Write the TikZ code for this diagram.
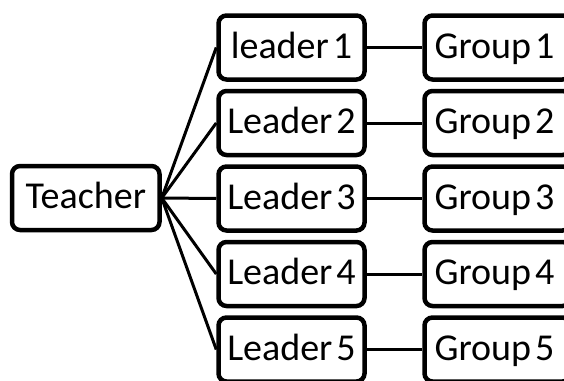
\documentclass[tikz,border=0pt]{standalone}
\usepackage{fontspec}
\setmainfont{Carlito}
\newcommand{\mybxfont}{\fontsize{38}{40}\selectfont\spaceskip=4pt plus 1pt\relax}
\begin{document}
\begin{tikzpicture}[x=1pt,y=-1pt,
  box/.style={draw=black, line width=4.5pt, rounded corners=8pt, fill=white,
    minimum height=64pt, inner sep=0pt, text height=30pt, text depth=9pt,
    font=\mybxfont},
  lbox/.style={box, minimum width=146pt},
  link/.style={draw=black, line width=3pt}]
\useasboundingbox (0,0) rectangle (564,380);
\clip (0,0) rectangle (564,380);
\fill[white] (0,0) rectangle (564,380);
\node[box, minimum width=147.5pt] (T) at (85.75,198) {Teacher};
\node[lbox] (L1) at (291.5,47.5) {leader 1};
\node[lbox] (L2) at (291.5,123) {Leader 2};
\node[lbox] (L3) at (291.5,198.5) {Leader 3};
\node[lbox] (L4) at (291.5,274) {Leader 4};
\node[lbox] (L5) at (291.5,349.5) {Leader 5};
\node[lbox] (G1) at (497.5,47.5) {\hspace*{-6pt}Group 1};
\node[lbox] (G2) at (497.5,123) {\hspace*{-6pt}Group 2};
\node[lbox] (G3) at (497.5,198.5) {\hspace*{-6pt}Group 3};
\node[lbox] (G4) at (497.5,274) {\hspace*{-6pt}Group 4};
\node[lbox] (G5) at (497.5,349.5) {\hspace*{-6pt}Group 5};
\foreach \i in {1,...,5}{
  \draw[link] (T.east) -- (L\i.west);
  \draw[link] (L\i.east) -- (G\i.west);
}
\end{tikzpicture}
\end{document}
